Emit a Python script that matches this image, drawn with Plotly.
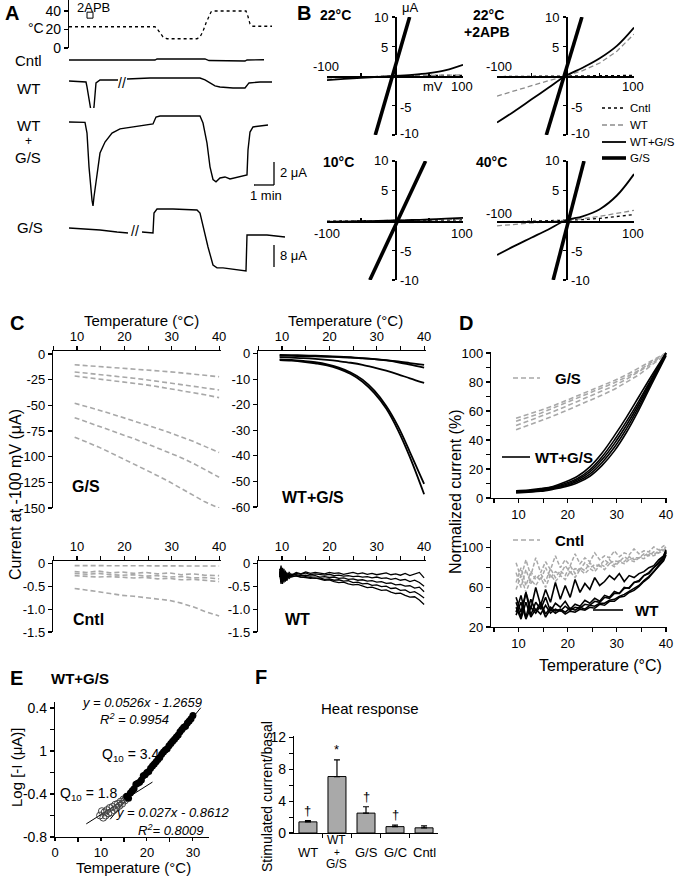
import plotly.graph_objects as go

W, H = 676, 878
FONT = "Liberation Sans, Arial, sans-serif"
GREY = "#a8a8a8"
DASH = "5px,3px"

# ---------------- A: time courses (t in min) ----------------
temp_t = [0, 4.3, 4.4, 4.55, 4.7, 4.9, 6.4, 6.55, 6.7, 6.85, 7.0, 7.1, 7.25, 8.85, 8.95, 9.05, 9.2, 10.15]
temp_c = [23, 23, 21, 16, 12, 10, 10, 12, 18, 27, 35, 39, 40, 40, 34, 26, 23.5, 23.5]

cntl_t = [0, 4.3, 4.4, 6.8, 7.0, 8.8, 8.9, 9.75]
cntl_i = [0, 0, 0.09, 0.09, -0.05, -0.09, 0, 0.02]

wt_t = [0, 0.85, 0.9, 1.05, 1.15, 1.25, 1.35, 1.55, 2.45, None, 2.9, 4.05, 6.55, 6.8, 7.05, 7.3,
        7.55, 8.2, 8.8, 8.9, 9.0, 9.55, 10.15]
wt_i = [0, -0.09, -0.52, -2.26, -3.13, -2.26, -0.17, 0.09, 0.09, None, 0.17, 0.26, 0.26, 0.09, -0.17,
        -0.43, -0.52, -0.61, -0.61, -0.43, -0.17, -0.09, -0.09]

wtgs_t = [0, 0.8, 0.9, 1.0, 1.15, 1.2, 1.25, 1.4, 1.55, 1.8, 2.15, 2.55, 3.2, 3.9, 4.2, 4.35, 4.55,
          6.55, 6.7, 6.9, 7.05, 7.2, 7.35, 7.55, 7.8, 8.05, 8.55, 8.9, 8.95, 9.05, 9.2, 9.95]
wtgs_i = [0, -0.03, -0.96, -3.9, -6.8, -7.3, -6.5, -4.4, -2.7, -1.74, -0.96, -0.6, -0.43, -0.26, -0.17,
          0.43, 0.52, 0.52, -0.09, -1.83, -3.9, -5.0, -5.2, -4.87, -4.78, -4.96, -4.78, -4.6, -2.43,
          -0.87, -0.43, -0.26]

gs_t = [0, 0.7, 1.55, 2.4, 2.95, None, 3.65, 4.2, 4.25, 4.4, 5.2, 6.4, 6.55, 6.7, 6.95, 7.2, 7.4,
        7.7, 8.2, 8.85, 8.9, 9.2, 9.9, 10.8]
gs_i = [0, -0.36, -0.73, -1.45, -1.8, None, -1.45, -1.8, 5.45, 6.9, 6.9, 6.55, 5.45, 0.36, -6.9,
        -13.45, -14.5, -14.5, -14.9, -15.6, -2.55, -2.55, -2.55, -3.3]

# ---------------- B: I-V curves (mV, µA) ----------------
mv = [-100, -75, -50, -25, 0, 25, 50, 75, 100]
iv = {
    "22": dict(cntl=[-0.25, -0.18, -0.12, -0.06, 0, 0.04, 0.08, 0.1, 0.12],
               wt=[-0.35, -0.25, -0.16, -0.08, 0, 0.05, 0.1, 0.14, 0.18],
               wtgs=[-0.7, -0.5, -0.33, -0.15, 0, 0.2, 0.5, 1.0, 1.9],
               gs_v=[-29, 21.5]),
    "22apb": dict(cntl=[-0.1, -0.07, -0.05, -0.02, 0, 0.02, 0.05, 0.07, 0.1],
                  wt=[-3.4, -2.5, -1.7, -0.8, 0, 0.9, 2.2, 4.2, 7.1],
                  wtgs=[-7.9, -6.0, -4.0, -2.0, 0, 1.4, 3.0, 5.1, 8.2],
                  gs_v=[-28, 24]),
    "10": dict(cntl=[-0.1, -0.08, -0.05, -0.02, 0, 0.03, 0.05, 0.08, 0.1],
               wt=[-0.15, -0.1, -0.07, -0.03, 0, 0.04, 0.08, 0.13, 0.2],
               wtgs=[-0.25, -0.18, -0.12, -0.06, 0, 0.08, 0.17, 0.3, 0.45],
               gs_v=[-37, 45]),
    "40": dict(cntl=[-0.3, -0.22, -0.15, -0.07, 0, 0.15, 0.35, 0.65, 1.0],
               wt=[-0.9, -0.65, -0.45, -0.2, 0, 0.3, 0.7, 1.15, 1.7],
               wtgs=[-5.8, -4.3, -2.9, -1.5, 0, 0.7, 1.9, 4.2, 7.8],
               gs_v=[-18, 27]),
}
gs_i_ends = [-10, 10]

# ---------------- C: current at -100 mV vs temperature ----------------
t13 = [9.5, 12, 14.5, 17, 19.5, 22, 24.5, 27, 29.5, 32, 34.5, 37, 40]
c_gs = [
    [-10.5, -11.3, -12.1, -12.8, -13.6, -14.5, -15.4, -16.3, -17.3, -18.4, -19.6, -20.8, -22.2],
    [-17.5, -18.6, -19.8, -21.0, -22.2, -23.6, -25.0, -26.5, -28.0, -29.6, -31.3, -33.0, -35.0],
    [-21.5, -22.8, -24.1, -25.5, -26.9, -28.4, -30.0, -31.8, -33.6, -35.5, -37.6, -39.7, -42.5],
    [-48, -51, -54.5, -58, -61.5, -65, -68.8, -72.6, -76.5, -80.5, -85, -90, -96],
    [-62, -66, -70, -74, -78, -82.5, -87, -91.5, -96, -101, -106.5, -113, -120],
    [-81, -85.5, -90.5, -96, -101.5, -107, -112.5, -118.5, -124.5, -131, -137.5, -144, -150],
]
c_wtgs = [
    [-0.8, -0.9, -1.0, -1.1, -1.25, -1.4, -1.6, -1.9, -2.2, -2.6, -3.1, -3.7, -4.4],
    [-0.5, -0.6, -0.7, -0.85, -1.0, -1.2, -1.45, -1.8, -2.2, -2.7, -3.4, -4.3, -5.5],
    [-1.4, -1.6, -1.8, -2.1, -2.5, -3.0, -3.6, -4.4, -5.5, -6.7, -8.1, -9.7, -11.5],
    [-2.3, -2.5, -2.9, -3.4, -4.2, -5.5, -7.4, -10.2, -14.5, -20.5, -28.5, -38.5, -51],
    [-2.6, -2.8, -3.2, -3.8, -4.6, -6.0, -8.0, -11.0, -15.5, -21.5, -30, -40.5, -55],
]
c_cntl = [
    [-0.05, -0.05, -0.05, -0.05, -0.05, -0.05, -0.05, -0.05, -0.05, -0.05, -0.05, -0.05, -0.06],
    [-0.18, -0.2, -0.17, -0.21, -0.19, -0.22, -0.2, -0.23, -0.21, -0.25, -0.23, -0.26, -0.27],
    [-0.22, -0.24, -0.22, -0.25, -0.26, -0.25, -0.28, -0.27, -0.3, -0.29, -0.32, -0.31, -0.34],
    [-0.27, -0.28, -0.3, -0.29, -0.31, -0.32, -0.31, -0.34, -0.33, -0.36, -0.35, -0.38, -0.4],
    [-0.55, -0.58, -0.62, -0.66, -0.7, -0.72, -0.75, -0.77, -0.81, -0.87, -0.95, -1.05, -1.15],
]
t_wt = [9.5, 9.8, 10.1, 10.4, 10.7, 11, 11.5, 12, 13, 14, 15, 16, 17, 18, 19, 20, 21, 22, 23, 24,
        25, 26, 27, 28, 29, 30, 31, 32, 33, 34, 35, 36, 37, 38, 39, 40]
c_wt = [
    [-0.12, -0.38, -0.1, -0.34, -0.16, -0.3, -0.2, -0.26,
     -0.2, -0.23, -0.19, -0.22, -0.2, -0.21, -0.23, -0.2, -0.22, -0.21, -0.24, -0.22, -0.2, -0.23,
     -0.21, -0.24, -0.22, -0.25, -0.23, -0.21, -0.25, -0.23, -0.26, -0.22, -0.27, -0.24, -0.2, -0.32],
    [-0.18, -0.42, -0.15, -0.38, -0.2, -0.33, -0.24, -0.28,
     -0.22, -0.24, -0.21, -0.25, -0.23, -0.24, -0.26, -0.24, -0.27, -0.26, -0.28, -0.27, -0.29, -0.28,
     -0.3, -0.29, -0.32, -0.3, -0.33, -0.32, -0.35, -0.33, -0.37, -0.35, -0.4, -0.37, -0.42, -0.5],
    [-0.25, -0.05, -0.4, -0.12, -0.36, -0.2, -0.3, -0.24,
     -0.25, -0.27, -0.26, -0.28, -0.27, -0.3, -0.29, -0.31, -0.3, -0.33, -0.32, -0.35, -0.34, -0.37,
     -0.36, -0.39, -0.38, -0.41, -0.4, -0.44, -0.43, -0.47, -0.46, -0.5, -0.49, -0.54, -0.52, -0.62],
    [-0.3, -0.1, -0.45, -0.2, -0.4, -0.25, -0.33, -0.28,
     -0.28, -0.3, -0.29, -0.31, -0.33, -0.32, -0.35, -0.34, -0.37, -0.36, -0.39, -0.38, -0.42, -0.41,
     -0.45, -0.44, -0.48, -0.47, -0.51, -0.5, -0.55, -0.54, -0.59, -0.58, -0.64, -0.62, -0.68, -0.76],
    [-0.2, -0.45, -0.15, -0.42, -0.22, -0.38, -0.26, -0.3,
     -0.27, -0.3, -0.31, -0.33, -0.32, -0.35, -0.37, -0.36, -0.4, -0.42, -0.41, -0.45, -0.47, -0.46,
     -0.5, -0.53, -0.52, -0.56, -0.59, -0.58, -0.63, -0.66, -0.65, -0.7, -0.74, -0.73, -0.8, -0.9],
]

# ---------------- D: normalized current (%) ----------------
d_gs = [
    [47, 50, 53, 56.5, 60, 63.5, 67, 71, 75, 80, 85, 91.5, 99],
    [50, 53, 56, 59.5, 63, 66.5, 70, 73.5, 77.5, 82, 87, 92.5, 100],
    [53, 55.5, 58.5, 62, 65.5, 68.5, 72, 75.5, 79.5, 83.5, 88, 93.5, 100],
    [55, 57.5, 60.5, 63.5, 67, 70, 73.5, 77, 81, 85, 89.5, 94.5, 100],
]
d_wtgs = [
    [5, 5.5, 6.5, 8, 11, 15, 21.5, 31, 43, 56, 70, 84, 100],
    [4.5, 5, 6, 7.5, 10, 13.5, 19.5, 28.5, 40, 53, 67, 82, 100],
    [4, 4.5, 5.5, 7, 9.2, 12.5, 18, 26.5, 37.5, 50.5, 65, 81, 100],
    [4, 4.3, 5, 6.5, 8.5, 11.5, 16.5, 24.5, 35, 48, 63, 79.5, 99],
    [3.5, 4, 4.6, 6, 7.8, 10.5, 15, 22.5, 32.5, 45.5, 61, 78, 98],
]
t_d = [9.5, 10.5, 11.5, 12.5, 13.5, 14.5, 15.5, 16.5, 17.5, 18.5, 19.5, 20.5, 21.5, 22.5, 23.5, 24.5,
       25.5, 26.5, 27.5, 28.5, 29.5, 30.5, 31.5, 32.5, 33.5, 34.5, 35.5, 36.5, 37.5, 38.5, 39.5, 40]
d_cntl = [
    [85, 70, 88, 72, 90, 75, 86, 78, 92, 80, 88, 82, 94, 84, 90, 86, 95, 88, 92, 90, 97, 91, 95, 93, 99, 94, 97, 96, 101, 98, 102, 103],
    [65, 80, 62, 76, 68, 74, 66, 79, 70, 77, 72, 82, 74, 80, 77, 85, 79, 84, 81, 88, 83, 87, 86, 91, 88, 90, 92, 95, 93, 97, 99, 101],
    [75, 60, 78, 64, 72, 67, 80, 70, 76, 73, 82, 75, 79, 78, 85, 80, 83, 82, 88, 84, 87, 86, 91, 88, 90, 90, 94, 92, 96, 95, 98, 100],
    [58, 72, 55, 68, 62, 70, 60, 73, 66, 72, 68, 76, 70, 78, 74, 79, 76, 82, 78, 84, 81, 86, 84, 88, 86, 90, 89, 93, 92, 95, 97, 99],
]
d_wt = [
    [50, 35, 55, 32, 45, 38, 50, 36, 44, 40, 46, 38, 43, 41, 47, 44, 49, 46, 52, 50, 56, 54, 60, 59, 65, 66, 72, 74, 80, 84, 90, 96],
    [40, 28, 45, 30, 38, 33, 42, 34, 38, 36, 41, 37, 40, 39, 43, 42, 46, 45, 50, 49, 54, 54, 59, 60, 65, 67, 72, 75, 80, 85, 91, 97],
    [35, 52, 30, 48, 36, 45, 33, 40, 36, 38, 35, 39, 37, 40, 38, 42, 41, 44, 44, 47, 48, 51, 53, 56, 59, 62, 67, 71, 76, 82, 88, 95],
    [45, 30, 55, 38, 60, 42, 58, 45, 65, 48, 62, 50, 68, 55, 64, 58, 70, 62, 66, 72, 68, 74, 66, 72, 70, 74, 76, 80, 82, 88, 92, 98],
    [32, 45, 28, 40, 34, 42, 30, 38, 34, 37, 33, 36, 35, 38, 37, 40, 39, 43, 42, 46, 46, 50, 51, 55, 57, 61, 66, 70, 76, 81, 87, 93],
]

# ---------------- E: log current vs temperature ----------------
e_open_t = [9.8, 10.2, 10.5, 10.8, 11.0, 11.3, 11.6, 11.9, 12.2, 12.5, 12.8, 13.1, 13.4, 13.7, 14.0,
            14.3, 14.6, 14.9, 15.2, 15.5]
e_open_y = [-0.6, -0.56, -0.62, -0.57, -0.6, -0.55, -0.58, -0.53, -0.57, -0.52, -0.55, -0.5, -0.53,
            -0.49, -0.51, -0.47, -0.49, -0.45, -0.46, -0.43]
e_fill_t = [15.6, 16, 16.4, 16.8, 17.2, 17.6, 18, 18.4, 18.8, 19.2, 19.6, 20, 20.4, 20.8, 21.2, 21.6,
            22, 22.4, 22.8, 23.2, 23.6, 24, 24.4, 24.8, 25.2, 25.6, 26, 26.4, 26.8, 27.2, 27.6, 28,
            28.4, 28.8, 29.2, 29.6, 30]
e_fill_y = [-0.42, -0.44, -0.39, -0.37, -0.35, -0.31, -0.30, -0.29, -0.27, -0.23, -0.22, -0.2, -0.19,
            -0.16, -0.14, -0.12, -0.1, -0.08, -0.06, -0.03, -0.01, 0.01, 0.02, 0.05, 0.07, 0.09, 0.11,
            0.13, 0.15, 0.18, 0.2, 0.22, 0.23, 0.26, 0.28, 0.3, 0.33]
fit_hot_t, fit_hot_y = [12, 31.7], [-0.635, 0.402]
fit_cold_t, fit_cold_y = [6.8, 21.2], [-0.678, -0.289]

# ---------------- F: heat response ----------------
f_groups = ["WT", "WT+G/S", "G/S", "G/C", "Cntl"]
f_mean = [1.4, 7.1, 2.5, 0.8, 0.65]
f_err = [0.15, 2.1, 0.8, 0.2, 0.25]
f_mark = ["†", "*", "†", "†", ""]


def xd(a, b):
    return [a / W, b / W]


def yd(top, bottom):
    return [1 - bottom / H, 1 - top / H]


def ref(n):
    s = "" if n == 1 else str(n)
    return "x" + s, "y" + s


layout_axes = {}


def minor(vals):
    return dict(tickvals=vals, ticks="outside", ticklen=4, tickwidth=1.1, tickcolor="black")


def axis(**kw):
    base = dict(showgrid=False, zeroline=False, showline=True, linecolor="black", linewidth=1.2,
                ticks="outside", ticklen=4, tickwidth=1.1, tickcolor="black", automargin=False,
                tickfont=dict(size=13, family=FONT, color="black"))
    base.update(kw)
    return base


def hidden(**kw):
    base = dict(visible=False, automargin=False)
    base.update(kw)
    return base


def set_axes(n, xa, ya):
    s = "" if n == 1 else str(n)
    xa.setdefault("anchor", "y" + s)
    ya.setdefault("anchor", "x" + s)
    layout_axes["xaxis" + s] = xa
    layout_axes["yaxis" + s] = ya


fig = go.Figure()


def add_line(n, x, y, color="black", width=1.5, dash="solid", shape="linear"):
    xr, yr = ref(n)
    fig.add_trace(go.Scatter(x=x, y=y, mode="lines", xaxis=xr, yaxis=yr, hoverinfo="skip",
                             line=dict(color=color, width=width, dash=dash, shape=shape)))


ann = []
shapes = []


def text(s, x, y, size=13, bold=False, italic=False, xanchor="center", angle=0):
    if bold:
        s = "<b>" + s + "</b>"
    if italic:
        s = "<i>" + s + "</i>"
    ann.append(dict(text=s, x=x / W, y=1 - y / H, xref="paper", yref="paper", showarrow=False,
                    xanchor=xanchor, yanchor="middle", textangle=angle,
                    font=dict(size=size, family=FONT, color="black")))


def key(x0, x1, y, color="black", width=1.5, dash="solid"):
    shapes.append(dict(type="line", xref="paper", yref="paper", x0=x0 / W, x1=x1 / W,
                       y0=1 - y / H, y1=1 - y / H, line=dict(color=color, width=width, dash=dash)))


# ===== A =====
ax_a = xd(69, 289)
set_axes(1, hidden(domain=ax_a, range=[0, 11]),
         axis(domain=yd(0, 48), range=[0, 51.9], tickvals=[0, 20, 40], tickfont=dict(size=14, family=FONT)))
set_axes(2, hidden(domain=ax_a, range=[0, 11]), hidden(domain=yd(52, 68), range=[-0.7, 0.7]))
set_axes(3, hidden(domain=ax_a, range=[0, 11]), hidden(domain=yd(68, 122), range=[-3.57, 1.13]))
set_axes(4, hidden(domain=ax_a, range=[0, 11]), hidden(domain=yd(108, 212), range=[-7.83, 1.22]))
set_axes(5, hidden(domain=ax_a, range=[0, 11]), hidden(domain=yd(200, 275), range=[-17.09, 10.18]))

add_line(1, temp_t, temp_c, width=1.3, dash="dot")
fig.add_trace(go.Scatter(x=[1.05], y=[35.5], mode="markers", xaxis="x", yaxis="y", hoverinfo="skip",
                         marker=dict(symbol="square-open", size=6, color="black", line=dict(width=1))))
add_line(2, cntl_t, cntl_i, width=1.4)
add_line(3, wt_t, wt_i, width=1.4)
add_line(4, wtgs_t, wtgs_i, width=1.4)
add_line(5, gs_t, gs_i, width=1.4)

for xr, yr, t0, t1, i0, i1 in [("x4", "y4", 10.25, 10.25, -3.48, -5.48), ("x4", "y4", 9.25, 10.25, -5.48, -5.48),
                               ("x5", "y5", 10.25, 10.25, -6.2, -14.2)]:
    shapes.append(dict(type="line", xref=xr, yref=yr, x0=t0, x1=t1, y0=i0, y1=i1,
                       line=dict(color="black", width=1.3)))

text("A", 3, 13, 20, bold=True, xanchor="left")
text("2APB", 93, 8, 13)
text("°C", 46, 28, 14, xanchor="right")
text("Cntl", 29, 60, 15)
text("WT", 28, 88, 15)
text("WT", 28, 125, 15)
text("+", 28, 141, 12)
text("G/S", 28, 157, 15)
text("G/S", 30, 228, 15)
text("2 μA", 278, 173, 13, xanchor="left")
text("1 min", 266, 195, 13)
text("8 μA", 278, 256, 13, xanchor="left")
text("//", 122, 83, 14)
text("//", 135, 231, 14)

# ===== B =====
b_panels = [
    (6, "22", (327, 463, 395), (17, 135, 76)),
    (7, "22apb", (497, 634, 566), (17, 135, 76)),
    (8, "10", (327, 463, 395), (161, 280, 221)),
    (9, "40", (497, 634, 566), (161, 280, 221)),
]
for n, k, (xa0, xa1, x0px), (ya0, ya1, y0px) in b_panels:
    set_axes(n,
             axis(domain=xd(xa0, xa1), range=[-100, 100], anchor="free", position=1 - y0px / H,
                  tickvals=[-100, -50, 50, 100], ticks="inside", ticklen=3, showticklabels=False, linewidth=1.5),
             axis(domain=yd(ya0, ya1), range=[-10, 10], anchor="free", position=x0px / W,
                  tickvals=[-10, -5, 5, 10], ticklen=3, showticklabels=False, linewidth=1.5))
    d = iv[k]
    add_line(n, mv, d["cntl"], width=1.3, dash="dot")
    add_line(n, mv, d["wt"], color="#8c8c8c", width=1.3, dash=DASH)
    add_line(n, mv, d["wtgs"], width=1.8, shape="spline")
    add_line(n, d["gs_v"], gs_i_ends, width=3.6)

b_labels = [
    ("10", 390, 17, "right"), ("5", 390, 47, "right"), ("-5", 398, 107, "left"), ("-10", 398, 133, "left"),
    ("-100", 326, 67, "center"), ("100", 462, 87, "center"), ("mV", 433, 87, "center"), ("μA", 400, 8, "left"),
    ("10", 561, 17, "right"), ("5", 561, 47, "right"), ("-5", 569, 107, "left"), ("-10", 569, 134, "left"),
    ("-100", 499, 67, "center"), ("100", 633, 87, "center"),
    ("10", 390, 161, "right"), ("5", 390, 190, "right"), ("-5", 398, 252, "left"), ("-10", 398, 280, "left"),
    ("-100", 327, 233, "center"), ("100", 462, 233, "center"),
    ("10", 561, 161, "right"), ("5", 561, 190, "right"), ("-5", 569, 252, "left"), ("-10", 569, 280, "left"),
    ("-100", 499, 213, "center"), ("100", 633, 233, "center"),
]
for s, x, y, anc in b_labels:
    text(s, x, y, 13, xanchor=anc)
text("B", 295, 13, 20, bold=True, xanchor="left")
text("22°C", 335, 15, 14, bold=True)
text("22°C", 488, 15, 14, bold=True)
text("+2APB", 487, 32, 14, bold=True)
text("10°C", 339, 162, 14, bold=True)
text("40°C", 491, 162, 14, bold=True)

key(602, 626, 108, width=1.3, dash="dot")
key(602, 626, 125, color="#8c8c8c", width=1.3, dash=DASH)
key(602, 626, 142, width=1.8)
key(602, 626, 158, width=3.6)
for s, y in [("Cntl", 108), ("WT", 125), ("WT+G/S", 142), ("G/S", 158)]:
    text(s, 628, y, 11.5, xanchor="left")

# ===== C =====
t_major = [10, 20, 30, 40]
t_minor = [5, 15, 25, 35]


def c_x(a, b):
    return axis(domain=xd(a, b), range=[4.93, 40.4], side="top", tickvals=t_major, minor=minor(t_minor))


set_axes(10, c_x(53, 221), axis(domain=yd(351, 508), range=[-150, 2.9], tickvals=[0, -25, -50, -75, -100, -125, -150],
                                 ticktext=["0", "-25", "-50", "-75", "-100", "-125", "-150"]))
set_axes(11, c_x(258, 426), axis(domain=yd(351, 507), range=[-60, 1.0], tickvals=[0, -10, -20, -30, -40, -50, -60],
                                  ticktext=["0", "-10", "-20", "-30", "-40", "-50", "-60"]))
small_y = dict(range=[-1.5, 0.05], tickvals=[0, -0.5, -1, -1.5], ticktext=["0", "-0.5", "-1.0", "-1.5"])
set_axes(12, c_x(53, 221), axis(domain=yd(561, 632), **small_y))
set_axes(13, c_x(258, 426), axis(domain=yd(561, 632), **small_y))

for ys in c_gs:
    add_line(10, t13, ys, color=GREY, width=1.6, dash=DASH)
for ys in c_wtgs:
    add_line(11, t13, ys, width=1.8, shape="spline")
for ys in c_cntl:
    add_line(12, t13, ys, color=GREY, width=1.6, dash=DASH)
for ys in c_wt:
    add_line(13, t_wt, ys, width=1.3)

text("C", 8, 323, 20, bold=True, xanchor="left")
text("Temperature (°C)", 141, 320, 15)
text("Temperature (°C)", 345, 320, 15)
text("Current at -100 mV (μA)", 15, 495, 16, angle=-90)
text("G/S", 86, 487, 16, bold=True)
text("WT+G/S", 313, 497, 16, bold=True)
text("Cntl", 88, 619, 16, bold=True)
text("WT", 297, 619, 16, bold=True)

# ===== D =====
d_x = dict(range=[4.4, 40.2], tickvals=t_major, minor=minor(t_minor))
set_axes(14, axis(domain=xd(491, 667), **d_x),
         axis(domain=yd(352, 498), range=[0, 100.7], tickvals=[0, 20, 40, 60, 80, 100],
              minor=minor([10, 30, 50, 70, 90])))
set_axes(15, axis(domain=xd(491, 667), **d_x),
         axis(domain=yd(540, 627), range=[20, 108], tickvals=[20, 60, 100], minor=minor([40, 80])))

for ys in d_gs:
    add_line(14, t13, ys, color=GREY, width=1.6, dash=DASH)
for ys in d_wtgs:
    add_line(14, t13, ys, width=1.6, shape="spline")
for ys in d_cntl:
    add_line(15, t_d, ys, color=GREY, width=1.5, dash="4px,2px")
for ys in d_wt:
    add_line(15, t_d, ys, width=1.6)

text("D", 457, 323, 20, bold=True, xanchor="left")
text("Normalized current (%)", 455, 492, 16, angle=-90)
text("Temperature (°C)", 600, 665, 16)
key(513, 540, 378, color=GREY, width=1.6, dash=DASH)
text("G/S", 553, 378, 15, bold=True, xanchor="left")
key(502, 530, 457, width=1.6)
text("WT+G/S", 533, 457, 15, bold=True, xanchor="left")
key(513, 540, 540, color=GREY, width=1.6, dash=DASH)
text("Cntl", 553, 540, 15, bold=True, xanchor="left")
key(593, 623, 610, width=1.6)
text("WT", 633, 610, 15, bold=True, xanchor="left")

# ===== E =====
set_axes(16, axis(domain=xd(55, 209), range=[0, 33.5], tickvals=[0, 10, 20, 30], minor=minor([5, 15, 25]),
                  ticklen=3, tickfont=dict(size=13, family=FONT)),
         axis(domain=yd(702, 837), range=[-0.8, 0.456], tickvals=[-0.8, -0.4, 0, 0.4],
              ticktext=["-0.8", "-0.4", "1", "0.4"], minor=minor([-0.6, -0.2, 0.2]),
              tickfont=dict(size=14, family=FONT)))
add_line(16, fit_hot_t, fit_hot_y, width=1)
add_line(16, fit_cold_t, fit_cold_y, width=1)
fig.add_trace(go.Scatter(x=e_open_t, y=e_open_y, mode="markers", xaxis="x16", yaxis="y16", hoverinfo="skip",
                         marker=dict(symbol="circle-open", size=7, color="#444", line=dict(width=1))))
fig.add_trace(go.Scatter(x=e_fill_t, y=e_fill_y, mode="markers", xaxis="x16", yaxis="y16", hoverinfo="skip",
                         marker=dict(symbol="circle", size=7, color="black")))

text("E", 8, 678, 20, bold=True, xanchor="left")
text("WT+G/S", 80, 678, 15, bold=True)
text("Log [-I (μA)]", 16, 767, 15, angle=-90)
text("Temperature (°C)", 133, 867, 15)
text("y = 0.0526x - 1.2659", 142, 702, 13, italic=True)
text("R<sup>2</sup> = 0.9954", 134, 719, 13, italic=True)
text("Q<sub>10</sub> = 3.4", 130, 755, 14)
text("Q<sub>10</sub> = 1.8", 88, 794, 14)
text("y = 0.027x - 0.8612", 172, 812, 13, italic=True)
text("R<sup>2</sup>= 0.8009", 170, 830, 13, italic=True)

# ===== F =====
set_axes(17, axis(domain=xd(294, 438), range=[-0.48, 4.48], tickvals=[0.5, 1.5, 2.5, 3.5],
                  showticklabels=False),
         axis(domain=yd(736, 833), range=[0, 12.2], tickvals=[0, 4, 8, 12], minor=minor([2, 6, 10]),
              tickfont=dict(size=14, family=FONT)))
fig.add_trace(go.Bar(x=list(range(len(f_groups))), y=f_mean, width=0.62, xaxis="x17", yaxis="y17",
                     hoverinfo="skip", marker=dict(color="#a9a9a9", line=dict(color="black", width=1)),
                     error_y=dict(type="data", symmetric=False, array=f_err, arrayminus=[0] * 5,
                                  color="black", thickness=1.2, width=3)))
for i, (m, e, s) in enumerate(zip(f_mean, f_err, f_mark)):
    if s:
        ann.append(dict(text=s, x=i, y=m + e, xref="x17", yref="y17", showarrow=False, yanchor="bottom",
                        yshift=1, font=dict(size=13, family=FONT, color="black")))


def f_label(s, i, y, size=12):
    ann.append(dict(text=s, x=i, y=1 - y / H, xref="x17", yref="paper", showarrow=False,
                    yanchor="middle", font=dict(size=size, family=FONT, color="black")))


for i, g in enumerate(f_groups):
    if g == "WT+G/S":
        f_label("WT", i, 840)
        f_label("+", i, 852, 10)
        f_label("G/S", i, 864)
    else:
        f_label(g, i, 852, 13)

text("F", 253, 677, 20, bold=True, xanchor="left")
text("Heat response", 370, 708, 15)
text("Stimulated current/basal", 267, 797, 14, angle=-90)

fig.update_layout(template="none", width=W, height=H, margin=dict(l=0, r=0, t=0, b=0, pad=0),
                  showlegend=False, paper_bgcolor="white", plot_bgcolor="white",
                  font=dict(family=FONT, color="black"), annotations=ann, shapes=shapes, **layout_axes)
fig.write_html("out.html", config={"displayModeBar": False, "staticPlot": True},
               post_script="document.body.style.margin='0px';")
